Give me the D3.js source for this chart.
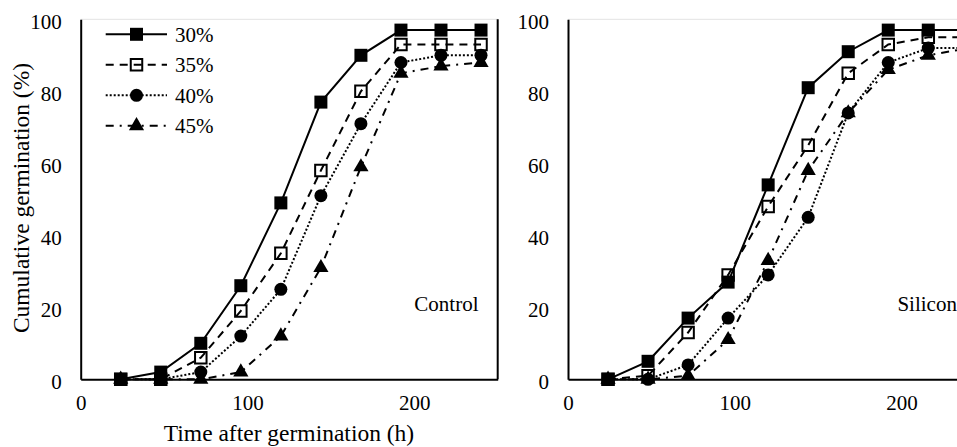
<!DOCTYPE html>
<html>
<head>
<meta charset="utf-8">
<script src="https://cdn.jsdelivr.net/npm/d3@7"></script>
<style>
  html, body { margin: 0; padding: 0; background: #fff; }
  svg, svg text { font-family: "Liberation Serif", "Times New Roman", serif; }
</style>
</head>
<body>
<div id="chart"></div>
<script>
// hours after start of germination test
var hours = [24, 48, 72, 96, 120, 144, 168, 192, 216, 240];
var seriesNames = ["30%", "35%", "40%", "45%"];
var xTicks = [0, 100, 200];
var yTicks = [0, 20, 40, 60, 80, 100];

var control30 = [0, 2, 10, 26, 49, 77, 90, 97, 97, 97];
var control35 = [0, 0, 6, 19, 35, 58, 80, 93, 93, 93];
var control40 = [0, 0, 2, 12, 25, 51, 71, 88, 90, 90];
var control45 = [0, 0, 0, 2, 12, 31, 59, 85, 87, 88];

var silicon30 = [0, 5, 17, 27, 54, 81, 91, 97, 97, 97];
var silicon35 = [0, 1, 13, 29, 48, 65, 85, 93, 95, 95];
var silicon40 = [0, 0, 4, 17, 29, 45, 74, 88, 92, 92];
var silicon45 = [0, 0, 1, 11, 33, 58, 74, 86, 90, 92];

var panels = [
    { label: "Control", labelX: 200, left: 80.7, series: [control30, control35, control40, control45] },
    { label: "Silicon", labelX: 197.5, left: 568, series: [silicon30, silicon35, silicon40, silicon45] }
];

var width = 957;
var height = 447;
var plotTop = 19.3;
var plotBottom = 379.3;
var plotWidth = 417;
var serif = "'Liberation Serif', 'Times New Roman', serif";

var styles = [
    { dash: null, symbol: d3.symbolSquare, size: 169, fill: "#000" },
    { dash: "8,6", symbol: d3.symbolSquare, size: 132, fill: "none" },
    { dash: "2,2", symbol: d3.symbolCircle, size: 133, fill: "#000" },
    { dash: "8,6,2,6", symbol: d3.symbolTriangle, size: 100, fill: "#000" }
];

var svg = d3.select("#chart")
    .append("svg")
    .attr("width", width)
    .attr("height", height);

var x = d3.scaleLinear().domain([0, 250]).range([0, plotWidth]);
var y = d3.scaleLinear().domain([0, 100]).range([plotBottom, plotTop]);

panels.forEach(function(p) {
    var g = svg.append("g").attr("transform", "translate(" + p.left + ",0)");

    // light top border and dark right border of the plot area
    g.append("line")
        .attr("x1", 0).attr("x2", x(250))
        .attr("y1", y(100)).attr("y2", y(100))
        .attr("stroke", "#e3e3e3").attr("stroke-width", 1);
    g.append("line")
        .attr("x1", x(250)).attr("x2", x(250))
        .attr("y1", y(100)).attr("y2", y(0))
        .attr("stroke", "#000").attr("stroke-width", 2);

    var yAxis = g.append("g")
        .call(d3.axisLeft(y).tickValues(yTicks).tickSize(0).tickPadding(19));
    var xAxis = g.append("g")
        .attr("transform", "translate(0," + plotBottom + ")")
        .call(d3.axisBottom(x).tickValues(xTicks).tickSize(0).tickPadding(16));

    [yAxis, xAxis].forEach(function(a) {
        a.attr("font-family", null).attr("font-size", null);
        a.select(".domain").attr("stroke", "#000").attr("stroke-width", 2);
        a.selectAll("text")
            .style("font-family", serif)
            .style("font-size", "21px")
            .attr("fill", "#000");
    });
    yAxis.selectAll("text").attr("dy", "0.45em");

    var line = d3.line()
        .x(function(d, i) { return x(hours[i]); })
        .y(function(d) { return y(d); });

    p.series.forEach(function(values, i) {
        var s = styles[i];
        g.append("path")
            .datum(values)
            .attr("d", line)
            .attr("fill", "none")
            .attr("stroke", "#000")
            .attr("stroke-width", 2)
            .attr("stroke-dasharray", s.dash);
    });

    p.series.forEach(function(values, i) {
        var s = styles[i];
        g.selectAll(".m" + i)
            .data(values)
            .enter()
            .append("path")
            .attr("class", "m" + i)
            .attr("d", d3.symbol().type(s.symbol).size(s.size))
            .attr("transform", function(d, j) {
                return "translate(" + x(hours[j]) + "," + y(d) + ")";
            })
            .attr("fill", s.fill)
            .attr("stroke", "#000")
            .attr("stroke-width", s.fill === "none" ? 2 : 0);
    });

    g.append("text")
        .attr("x", x(p.labelX))
        .attr("y", 311)
        .style("font-family", serif)
        .style("font-size", "21px")
        .text(p.label);
});

// legend in the left panel
var legend = svg.append("g");
var rowY = [34.3, 64.8, 95.3, 125.8];
seriesNames.forEach(function(name, i) {
    var s = styles[i];
    legend.append("line")
        .attr("x1", 105.7).attr("x2", 167)
        .attr("y1", rowY[i]).attr("y2", rowY[i])
        .attr("stroke", "#000")
        .attr("stroke-width", 2)
        .attr("stroke-dasharray", s.dash);
    legend.append("path")
        .attr("d", d3.symbol().type(s.symbol).size(s.size))
        .attr("transform", "translate(136.5," + rowY[i] + ")")
        .attr("fill", s.fill)
        .attr("stroke", "#000")
        .attr("stroke-width", s.fill === "none" ? 2 : 0);
    legend.append("text")
        .attr("x", 175)
        .attr("y", rowY[i])
        .attr("dy", "0.35em")
        .style("font-family", serif)
        .style("font-size", "21px")
        .text(name);
});

// axis titles
svg.append("text")
    .attr("x", 289)
    .attr("y", 441)
    .attr("text-anchor", "middle")
    .style("font-family", serif)
    .style("font-size", "23.5px")
    .text("Time after germination (h)");

svg.append("text")
    .attr("transform", "translate(29,198) rotate(-90)")
    .attr("text-anchor", "middle")
    .style("font-family", serif)
    .style("font-size", "23.5px")
    .text("Cumulative germination (%)");
</script>
</body>
</html>
